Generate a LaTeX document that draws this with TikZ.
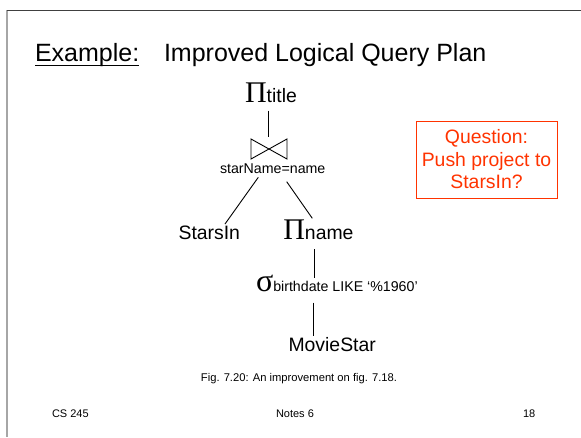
\documentclass[tikz,border=0pt]{standalone}
\usepackage{fontspec}
\setmainfont{Liberation Sans}
\newfontfamily\opfont{Liberation Serif}
\usetikzlibrary{calc}
\definecolor{qred}{RGB}{255,51,0}
\newcommand\sizeto[1]{\fontsize{#1}{#1}\selectfont}

\begin{document}
\begin{tikzpicture}[x=1pt,y=-1pt,
  txt/.style={inner sep=0pt, outer sep=0pt},
  edge/.style={draw=black, line width=0.9pt},
  body/.style={txt, font=\sizeto{19.4}},
  small/.style={txt, font=\sizeto{11}}]
\useasboundingbox[fill=white] (0,0) rectangle (581,437);

% slide frame
\draw[gray!70, line width=1.5pt] (7,10) -- (7,437);
\draw[black!75, line width=1pt] (7,10) -- (581,10);

% heading
\node[txt, anchor=base west, font=\sizeto{25}] (ex) at (35,61) {Example:};
\draw[line width=1.3pt] ($(ex.base west)+(0,4.5)$) -- ($(ex.base east)+(0,4.5)$);
\node[txt, anchor=base west, font=\sizeto{25}] (title) at (164,61) {Improved Logical Query Plan};

% query plan operators
\node[txt, anchor=base west] (pt) at (245,102) {{\opfont\sizeto{30}Π}{\sizeto{19.4}title}};
\node[txt, minimum width=36pt, minimum height=20pt] (join) at (269,149) {};
\draw[edge] (join.north west) -- (join.south east) -- (join.north east) -- (join.south west) -- cycle;
\node[txt, anchor=base, font=\sizeto{14.2}] (jc) at (272.7,173.3) {starName=name};
\node[body, anchor=base] (stars) at (209.3,239.3) {StarsIn};
\node[txt, anchor=base west] (pn) at (283.3,239.3) {{\opfont\sizeto{30}Π}{\sizeto{19.4}name}};
\node[txt, anchor=base west] (sg) at (256,291) {{\opfont\sizeto{32}σ}{\sizeto{14.2}birthdate LIKE ‘\%1960’}};
\node[body, anchor=base] (ms) at (332.2,351.7) {MovieStar};

% plan edges
\draw[edge] ($(pt.base west)+(23.3,8.7)$) -- ($(join.north)+(-0.7,-2.3)$);
\draw[edge] ($(jc.base)+(-14.4,4)$) -- ($(stars.base)+(15.7,-15.3)$);
\draw[edge] ($(jc.base)+(14,8.4)$) -- ($(pn.base west)+(29,-21)$);
\draw[edge] ($(pn.base west)+(31,10)$) -- ($(sg.base west)+(58.3,-12.7)$);
\draw[edge] ($(sg.base west)+(57.3,11.7)$) -- ($(ms.base)+(-18.9,-15.7)$);

% question box
\node[draw=qred, text=qred, line width=1pt, minimum width=141pt, minimum height=77pt,
      inner sep=0pt, align=center, font=\fontsize{19.4}{22.5}\selectfont] (q) at (486.5,159.5)
  {Question:\\Push project to\\StarsIn?};

% caption and footer
\node[txt, anchor=base, font=\sizeto{11.2}] (cap) at (299,381.5) {Fig. 7.20: An improvement on fig. 7.18.};
\node[small, anchor=base west] (cs) at (52,417) {CS 245};
\node[small, anchor=base west] (notes) at (276,417) {Notes 6};
\node[small, anchor=base west] (pg) at (523,417) {18};
\end{tikzpicture}
\end{document}
